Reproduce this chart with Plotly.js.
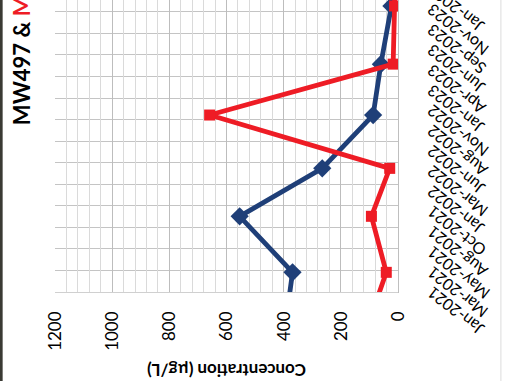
<!DOCTYPE html>
<html>
<head>
<meta charset="utf-8">
<script src="https://cdn.plot.ly/plotly-3.0.1.min.js"></script>
<style>
  html, body { margin: 0; padding: 0; width: 508px; height: 381px; overflow: hidden; background: #ffffff; }
  #wrap { position: absolute; left: 0; top: 0; width: 430px; height: 508px;
          transform-origin: 0 0; transform: translate(0px, 381px) rotate(-90deg); overflow: hidden; }
  #chart { width: 430px; height: 508px; }
</style>
</head>
<body>
<div id="wrap"><div id="chart"></div></div>
<script>
// ---- data ----
const sampleDates = ['2020-10-01', '2021-03-15', '2021-10-09', '2022-04-05', '2022-10-20', '2023-04-27', '2023-11-29', '2024-04-20'];
const mw497 = [390, 369, 554, 265, 87, 60, 23, 15];
const mw498 = [95, 41, 93, 29, 659, 17, 12, 10];
const seriesNames = ['MW497', 'MW498'];

const tickDates = ['2021-01-01', '2021-03-17', '2021-05-31', '2021-08-14', '2021-10-28',
                   '2022-01-11', '2022-03-27', '2022-06-10', '2022-08-24', '2022-11-07',
                   '2023-01-21', '2023-04-06', '2023-06-20', '2023-09-03', '2023-11-17', '2024-01-31'];
const tickLabels = ['Jan-2021', 'Mar-2021', 'May-2021', 'Aug-2021', 'Oct-2021',
                    'Jan-2022', 'Mar-2022', 'Jun-2022', 'Aug-2022', 'Nov-2022',
                    'Jan-2023', 'Apr-2023', 'Jun-2023', 'Sep-2023', 'Nov-2023', 'Jan-2024'];
const valueTicks = [0, 200, 400, 600, 800, 1000, 1200];

const BLUE = '#1F3F78';
const RED = '#EE1C25';
const DAY = 86400000;
const FONT = 'Lato, "Open Sans", sans-serif';

const traces = [
  { x: sampleDates, y: mw497, name: seriesNames[0], type: 'scatter', mode: 'lines+markers',
    line: { color: BLUE, width: 4.8 },
    marker: { symbol: 'diamond', size: 14, color: BLUE } },
  { x: sampleDates, y: mw498, name: seriesNames[1], type: 'scatter', mode: 'lines+markers',
    line: { color: RED, width: 4.8 },
    marker: { symbol: 'square', size: 11, color: RED } }
];

const layout = {
  width: 430, height: 508,
  margin: { l: 89, r: 0, t: 55, b: 110, pad: 0 },
  paper_bgcolor: '#ffffff', plot_bgcolor: '#ffffff',
  showlegend: false,
  font: { family: FONT, color: '#000000' },
  title: {
    text: seriesNames[0] + ' & <span style="color:' + RED + '">' + seriesNames[1] + '</span>',
    xref: 'container', x: 0.595, xanchor: 'left',
    yref: 'container', y: 0.957, yanchor: 'middle',
    font: { family: FONT, size: 22, weight: 'bold', color: '#000000' }
  },
  xaxis: {
    type: 'date',
    range: ['2021-01-01', '2024-06-20'],
    tickmode: 'array', tickvals: tickDates, ticktext: tickLabels,
    tickangle: -52,
    tickfont: { family: FONT, size: 16, color: '#000000' },
    ticks: '', ticklabelstandoff: 18,
    showgrid: false, zeroline: false,
    showline: true, linecolor: '#bfbfbf', linewidth: 1,
    minor: { tick0: '2021-01-01', dtick: 80 * DAY, showgrid: true, gridcolor: '#c4c4c4', gridwidth: 1 },
    automargin: false
  },
  yaxis: {
    range: [0, 1200],
    tickmode: 'array', tickvals: valueTicks, ticktext: valueTicks.map(String),
    tickfont: { family: FONT, size: 17, color: '#000000' },
    ticks: '', ticklabelstandoff: 15,
    showgrid: true, gridcolor: '#bdbdbd', gridwidth: 1,
    minor: { dtick: 40, showgrid: true, gridcolor: '#dadada', gridwidth: 1 },
    zeroline: false,
    showline: true, linecolor: '#d0d0d0', linewidth: 1,
    title: { text: 'Concentration (µg/L)', standoff: 8,
             font: { family: FONT, size: 17, weight: 'bold', color: '#000000' } },
    automargin: false
  },
  shapes: [
    { type: 'line', xref: 'paper', yref: 'paper', x0: -1, x1: 2, y0: 1.157, y1: 1.157,
      line: { color: '#3a3a34', width: 3 } },
    { type: 'line', xref: 'paper', yref: 'paper', x0: -1, x1: 2, y0: -0.300, y1: -0.300,
      line: { color: '#dcdcdc', width: 1 } }
  ]
};

Plotly.newPlot('chart', traces, layout, { displayModeBar: false, staticPlot: true });
</script>
</body>
</html>
